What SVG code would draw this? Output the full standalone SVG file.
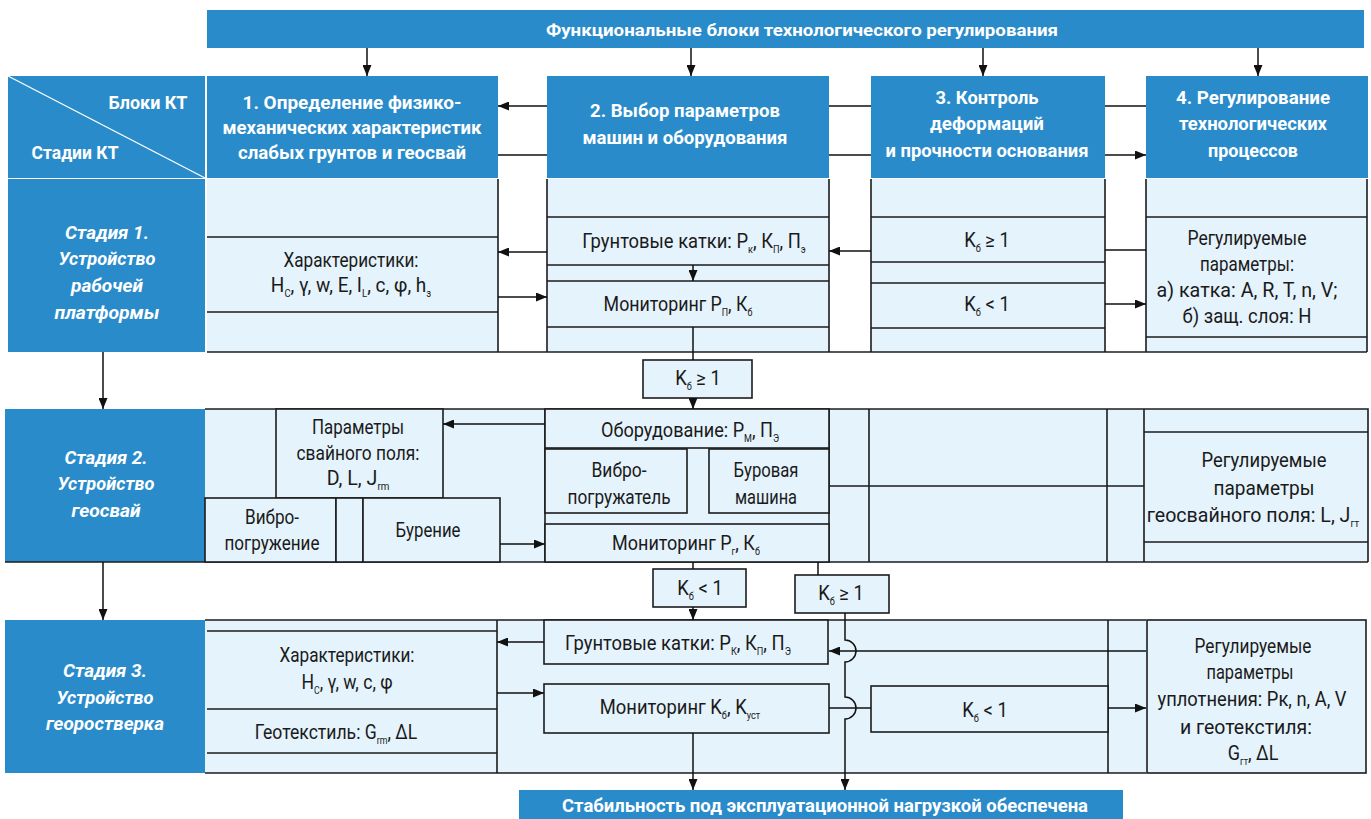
<svg xmlns="http://www.w3.org/2000/svg" width="1371" height="819" viewBox="0 0 1371 819">
<defs>
<marker id="ah" markerWidth="11" markerHeight="9" refX="11" refY="4.5" orient="auto" markerUnits="userSpaceOnUse"><path d="M0,0 L11,4.5 L0,9 z" fill="#111"/></marker>
<style>
.blue{fill:#2a8bcb}
.lt{fill:#e5f3fc}
.ln{stroke:#1c1c1c;stroke-width:1.6;fill:none}
.bx{fill:#e5f3fc;stroke:#1c1c1c;stroke-width:1.6}
.cn{stroke:#111;stroke-width:1.5;fill:none}
.ar{marker-end:url(#ah)}
text{font-family:Roboto,"Liberation Sans",Arial,sans-serif;text-anchor:middle}
.h{font-weight:700;font-size:19px;fill:#fff}
.st{font-weight:700;font-style:italic;font-size:19px;fill:#fff}
.t{font-size:20px;font-weight:400;fill:#1a1a1a}
.sb{font-size:10px}
</style>
</defs>
<rect width="1371" height="819" fill="#fff"/>

<g id="top-bar">
<rect x="207" y="10" width="1157" height="38" class="blue"/>
<text class="h" x="802" y="36" style="font-size:17px" textLength="512" lengthAdjust="spacingAndGlyphs">Функциональные блоки технологического регулирования</text>
</g>

<g id="corner">
<rect x="8" y="76" width="197" height="102" class="blue"/>
<line x1="8" y1="76" x2="205" y2="178" stroke="#fff" stroke-width="1.3"/>
<text class="h" x="148" y="109" textLength="79" lengthAdjust="spacingAndGlyphs">Блоки КТ</text>
<text class="h" x="75" y="159" textLength="87" lengthAdjust="spacingAndGlyphs">Стадии КТ</text>
</g>

<g id="header-1">
<rect x="207" y="76" width="291" height="102" class="blue"/>
<text class="h" x="352" y="109" textLength="219" lengthAdjust="spacingAndGlyphs">1. Определение физико-</text>
<text class="h" x="352" y="134" textLength="259" lengthAdjust="spacingAndGlyphs">механических характеристик</text>
<text class="h" x="352" y="159" textLength="228" lengthAdjust="spacingAndGlyphs">слабых грунтов и геосвай</text>
</g>
<g id="header-2">
<rect x="547" y="76" width="282" height="102" class="blue"/>
<text class="h" x="685" y="117" textLength="190" lengthAdjust="spacingAndGlyphs">2. Выбор параметров</text>
<text class="h" x="685" y="144" textLength="205" lengthAdjust="spacingAndGlyphs">машин и оборудования</text>
</g>
<g id="header-3">
<rect x="871" y="76" width="234" height="102" class="blue"/>
<text class="h" x="987" y="104" textLength="103" lengthAdjust="spacingAndGlyphs">3. Контроль</text>
<text class="h" x="987" y="130" textLength="114" lengthAdjust="spacingAndGlyphs">деформаций</text>
<text class="h" x="987" y="157" textLength="203" lengthAdjust="spacingAndGlyphs">и прочности основания</text>
</g>
<g id="header-4">
<rect x="1146" y="76" width="222" height="102" class="blue"/>
<text class="h" x="1253" y="104" textLength="154" lengthAdjust="spacingAndGlyphs">4. Регулирование</text>
<text class="h" x="1253" y="130" textLength="148" lengthAdjust="spacingAndGlyphs">технологических</text>
<text class="h" x="1253" y="157" textLength="90" lengthAdjust="spacingAndGlyphs">процессов</text>
</g>

<!-- Stage 1 -->
<g id="stage-1-label">
<rect x="8" y="179" width="197" height="173" class="blue"/>
<text class="st" x="107" y="239" textLength="84" lengthAdjust="spacingAndGlyphs">Стадия 1.</text>
<text class="st" x="107" y="265" textLength="97" lengthAdjust="spacingAndGlyphs">Устройство</text>
<text class="st" x="107" y="292" textLength="72" lengthAdjust="spacingAndGlyphs">рабочей</text>
<text class="st" x="107" y="319" textLength="105" lengthAdjust="spacingAndGlyphs">платформы</text>
</g>
<g id="stage-1-col1">
<rect x="207" y="179" width="291" height="173" class="lt"/>
<path class="ln" d="M498 179V352M207 237H498M207 312H498"/>
<text class="t" x="351" y="267" textLength="135" lengthAdjust="spacingAndGlyphs">Характеристики:</text>
<text class="t" x="0" y="292" transform="matrix(0.95 0 0 1 351 0)">H<tspan class="sb" dy="5">C</tspan><tspan dy="-5">, γ, w, E, I</tspan><tspan class="sb" dy="5">L</tspan><tspan dy="-5">, c, φ, h</tspan><tspan class="sb" dy="5">з</tspan></text>
</g>
<g id="stage-1-col2">
<rect x="547" y="179" width="282" height="173" class="lt"/>
<path class="ln" d="M547 179V352M829 179V352M547 217H829M547 265H829M547 281H829M547 327H829"/>
<text class="t" x="0" y="248" transform="matrix(0.92 0 0 1 694 0)">Грунтовые катки: P<tspan class="sb" dy="5">к</tspan><tspan dy="-5">, К</tspan><tspan class="sb" dy="5">П</tspan><tspan dy="-5">, П</tspan><tspan class="sb" dy="5">э</tspan></text>
<text class="t" x="0" y="311" transform="matrix(0.89 0 0 1 678 0)">Мониторинг P<tspan class="sb" dy="5">П</tspan><tspan dy="-5">, К</tspan><tspan class="sb" dy="5">б</tspan></text>
</g>
<g id="stage-1-col3">
<rect x="871" y="179" width="234" height="173" class="lt"/>
<path class="ln" d="M871 179V352M1105 179V352M871 217H1105M871 262H1105M871 283H1105M871 328H1105"/>
<text class="t" x="0" y="247" transform="matrix(0.92 0 0 1 987 0)">K<tspan class="sb" dy="5">б</tspan><tspan dy="-5"> ≥ 1</tspan></text>
<text class="t" x="0" y="311" transform="matrix(0.92 0 0 1 987 0)">K<tspan class="sb" dy="5">б</tspan><tspan dy="-5"> &lt; 1</tspan></text>
</g>
<g id="stage-1-col4">
<rect x="1146" y="179" width="221" height="173" class="lt"/>
<path class="ln" d="M1146 179V352M1367 179V352M1146 217H1367M1146 337H1367"/>
<text class="t" x="1247" y="245" textLength="119" lengthAdjust="spacingAndGlyphs">Регулируемые</text>
<text class="t" x="1247" y="271" textLength="94" lengthAdjust="spacingAndGlyphs">параметры:</text>
<text class="t" x="1247" y="297" textLength="181" lengthAdjust="spacingAndGlyphs">а) катка: A, R, T, n, V;</text>
<text class="t" x="1247" y="323" textLength="129" lengthAdjust="spacingAndGlyphs">б) защ. слоя: H</text>
</g>
<path class="ln" d="M207 352H1367"/>

<g id="cond-1">
<rect x="643" y="360" width="109" height="38" class="bx"/>
<text class="t" x="0" y="385" transform="matrix(0.92 0 0 1 698 0)">K<tspan class="sb" dy="5">б</tspan><tspan dy="-5"> ≥ 1</tspan></text>
</g>

<!-- Stage 2 -->
<g id="stage-2-label">
<rect x="5" y="409" width="200" height="153" class="blue"/>
<text class="st" x="106" y="464" textLength="83" lengthAdjust="spacingAndGlyphs">Стадия 2.</text>
<text class="st" x="106" y="490" textLength="97" lengthAdjust="spacingAndGlyphs">Устройство</text>
<text class="st" x="106" y="517" textLength="69" lengthAdjust="spacingAndGlyphs">геосвай</text>
</g>
<g id="stage-2-area">
<rect x="205" y="409" width="1163" height="153" class="lt"/>
<path class="ln" d="M205 409H1368V562M5 562H1368M545 409V562M829 409V562M869 409V562M1107 409V562M1144 409V562M829 486H1144M1144 432H1368M1144 542H1368"/>
</g>
<g id="stage-2-pile-params">
<rect x="276" y="409" width="167" height="89" class="bx"/>
<text class="t" x="358" y="434" textLength="92" lengthAdjust="spacingAndGlyphs">Параметры</text>
<text class="t" x="358" y="460" textLength="123" lengthAdjust="spacingAndGlyphs">свайного поля:</text>
<text class="t" x="0" y="485" transform="matrix(0.98 0 0 1 358 0)">D, L, J<tspan class="sb" dy="5">rm</tspan></text>
</g>
<g id="stage-2-vibro">
<rect x="205" y="498" width="131" height="64" class="bx"/>
<text class="t" x="272" y="524" textLength="54" lengthAdjust="spacingAndGlyphs">Вибро-</text>
<text class="t" x="272" y="550" textLength="95" lengthAdjust="spacingAndGlyphs">погружение</text>
</g>
<g id="stage-2-gap">
<rect x="336" y="498" width="27" height="64" class="bx"/>
</g>
<g id="stage-2-drilling">
<rect x="363" y="498" width="137" height="64" class="bx"/>
<text class="t" x="428" y="537" textLength="65" lengthAdjust="spacingAndGlyphs">Бурение</text>
</g>
<g id="stage-2-equipment">
<rect x="545" y="409" width="284" height="39" class="bx"/>
<text class="t" x="0" y="437" transform="matrix(0.905 0 0 1 690 0)">Оборудование: P<tspan class="sb" dy="5">М</tspan><tspan dy="-5">, П</tspan><tspan class="sb" dy="5">Э</tspan></text>
</g>
<g id="stage-2-vibrodriver">
<rect x="545" y="449" width="142" height="64" class="bx"/>
<text class="t" x="619" y="477" textLength="55" lengthAdjust="spacingAndGlyphs">Вибро-</text>
<text class="t" x="619" y="504" textLength="103" lengthAdjust="spacingAndGlyphs">погружатель</text>
</g>
<g id="stage-2-drill-machine">
<rect x="709" y="449" width="120" height="64" class="bx"/>
<text class="t" x="766" y="477" textLength="65" lengthAdjust="spacingAndGlyphs">Буровая</text>
<text class="t" x="766" y="504" textLength="62" lengthAdjust="spacingAndGlyphs">машина</text>
</g>
<g id="stage-2-monitoring">
<rect x="545" y="524" width="284" height="38" class="bx"/>
<text class="t" x="0" y="550" transform="matrix(0.9 0 0 1 686 0)">Мониторинг P<tspan class="sb" dy="5">г</tspan><tspan dy="-5">, К</tspan><tspan class="sb" dy="5">б</tspan></text>
</g>
<g id="stage-2-col4">
<text class="t" x="1264" y="467" textLength="125" lengthAdjust="spacingAndGlyphs">Регулируемые</text>
<text class="t" x="1264" y="495" textLength="101" lengthAdjust="spacingAndGlyphs">параметры</text>
<text class="t" x="0" y="522" transform="matrix(0.98 0 0 1 1253 0)">геосвайного поля: L, J<tspan class="sb" dy="5">гт</tspan></text>
</g>

<g id="cond-2a">
<rect x="653" y="569" width="93" height="38" class="bx"/>
<text class="t" x="0" y="595" transform="matrix(0.92 0 0 1 700 0)">K<tspan class="sb" dy="5">б</tspan><tspan dy="-5"> &lt; 1</tspan></text>
</g>
<g id="cond-2b">
<rect x="795" y="575" width="94" height="38" class="bx"/>
<text class="t" x="0" y="600" transform="matrix(0.92 0 0 1 841 0)">K<tspan class="sb" dy="5">б</tspan><tspan dy="-5"> ≥ 1</tspan></text>
</g>

<!-- Stage 3 -->
<g id="stage-3-label">
<rect x="5" y="620" width="200" height="153" class="blue"/>
<text class="st" x="105" y="677" textLength="84" lengthAdjust="spacingAndGlyphs">Стадия 3.</text>
<text class="st" x="105" y="704" textLength="97" lengthAdjust="spacingAndGlyphs">Устройство</text>
<text class="st" x="105" y="730" textLength="118" lengthAdjust="spacingAndGlyphs">георостверка</text>
</g>
<g id="stage-3-area">
<rect x="205" y="620" width="941" height="153" class="lt"/>
<path class="ln" d="M205 620H1146M205 773H1146M497 620V773M1108 620V773M207 631H497M207 709H497M207 753H497"/>
<text class="t" x="347" y="662" textLength="135" lengthAdjust="spacingAndGlyphs">Характеристики:</text>
<text class="t" x="0" y="689" transform="matrix(0.88 0 0 1 347 0)">H<tspan class="sb" dy="5">C</tspan><tspan dy="-5">, γ, w, c, φ</tspan></text>
<text class="t" x="0" y="739" transform="matrix(0.88 0 0 1 336 0)">Геотекстиль: G<tspan class="sb" dy="5">rm</tspan><tspan dy="-5">, ΔL</tspan></text>
</g>
<g id="stage-3-rollers">
<rect x="544" y="620" width="284" height="44" class="bx"/>
<text class="t" x="0" y="650" transform="matrix(0.92 0 0 1 678 0)">Грунтовые катки: P<tspan class="sb" dy="5">К</tspan><tspan dy="-5">, К</tspan><tspan class="sb" dy="5">П</tspan><tspan dy="-5">, П</tspan><tspan class="sb" dy="5">Э</tspan></text>
</g>
<g id="stage-3-monitoring">
<rect x="544" y="684" width="285" height="49" class="bx"/>
<text class="t" x="0" y="714" transform="matrix(0.92 0 0 1 680 0)">Мониторинг K<tspan class="sb" dy="5">б</tspan><tspan dy="-5">, K</tspan><tspan class="sb" dy="5">уст</tspan></text>
</g>
<g id="stage-3-cond">
<rect x="871" y="686" width="237" height="46" class="bx"/>
<text class="t" x="0" y="717" transform="matrix(0.92 0 0 1 985 0)">K<tspan class="sb" dy="5">б</tspan><tspan dy="-5"> &lt; 1</tspan></text>
</g>
<g id="stage-3-col4">
<rect x="1147" y="620" width="219" height="153" class="bx"/>
<text class="t" x="1253" y="653" textLength="117" lengthAdjust="spacingAndGlyphs">Регулируемые</text>
<text class="t" x="1250" y="679" textLength="87" lengthAdjust="spacingAndGlyphs">параметры</text>
<text class="t" x="1252" y="706" textLength="189" lengthAdjust="spacingAndGlyphs">уплотнения: Pк, n, A, V</text>
<text class="t" x="1246" y="734" textLength="132" lengthAdjust="spacingAndGlyphs">и геотекстиля:</text>
<text class="t" x="0" y="760" transform="matrix(0.9 0 0 1 1253 0)">G<tspan class="sb" dy="5">гт</tspan><tspan dy="-5">, ΔL</tspan></text>
</g>

<g id="bottom-bar">
<rect x="519" y="790" width="604" height="29" class="blue"/>
<text class="h" x="825" y="812" style="font-size:18px" textLength="526" lengthAdjust="spacingAndGlyphs">Стабильность под эксплуатационной нагрузкой обеспечена</text>
</g>

<g id="connectors">
<path class="cn ar" d="M367 48V76"/>
<path class="cn ar" d="M691 48V76"/>
<path class="cn ar" d="M983 48V76"/>
<path class="cn ar" d="M1258 48V76"/>
<path class="cn ar" d="M547 106H498"/>
<path class="cn" d="M498 155H547"/>
<path class="cn" d="M829 106H871M829 155H871"/>
<path class="cn" d="M1105 106H1146"/>
<path class="cn ar" d="M1105 155H1146"/>
<path class="cn ar" d="M547 252H498"/>
<path class="cn ar" d="M498 297H547"/>
<path class="cn ar" d="M871 251H829"/>
<path class="cn" d="M1105 250H1146"/>
<path class="cn ar" d="M1105 304H1146"/>
<path class="cn ar" d="M693 265V281"/>
<path class="cn" d="M693 327V360"/>
<path class="cn ar" d="M693 398V409"/>
<path class="cn ar" d="M103 352V409"/>
<path class="cn ar" d="M103 562V620"/>
<path class="cn ar" d="M545 424H443"/>
<path class="cn ar" d="M500 544H545"/>
<path class="cn" d="M693 562V569"/>
<path class="cn ar" d="M693 607V620"/>
<path class="cn" d="M818 562V575"/>
<path class="cn ar" d="M544 642H497"/>
<path class="cn ar" d="M497 693H544"/>
<path class="cn ar" d="M1146 651H829"/>
<path class="cn" d="M829 708H871"/>
<path class="cn ar" d="M1108 708H1146"/>
<path class="cn ar" d="M693 733V790"/>
<path class="cn ar" d="M845 613V640A11 11 0 0 1 845 662V697A11 11 0 0 1 845 719V790"/>
</g>
</svg>
